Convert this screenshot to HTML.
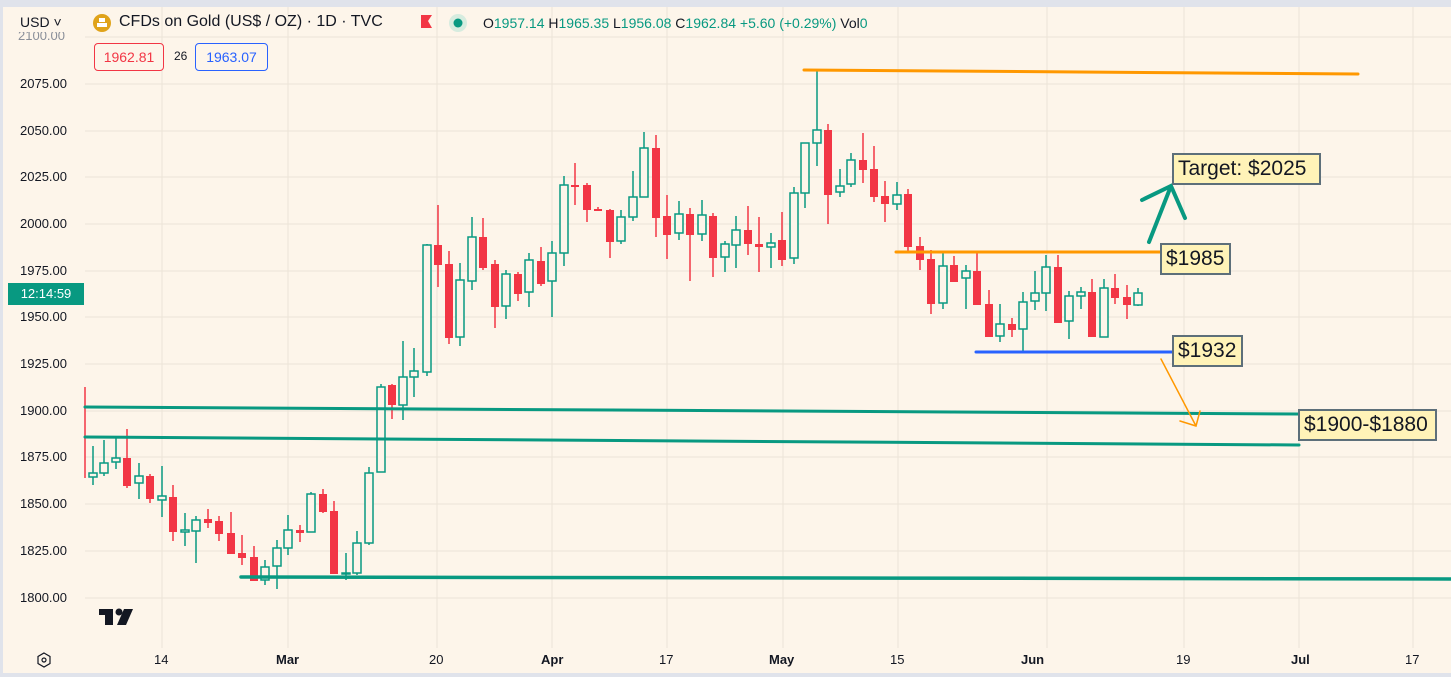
<!DOCTYPE html>
<html><head><meta charset="utf-8"><style>
body{margin:0;width:1451px;height:677px;overflow:hidden;background:#e0e3eb;font-family:"Liberation Sans",sans-serif;}
#c{position:absolute;left:3px;top:7px;width:1448px;height:666px;background:#fdf5ea;}
svg{position:absolute;left:0;top:0}
.t{position:absolute;white-space:nowrap;color:#131722}
.box{position:absolute;background:#fff3b8;border:2px solid #5d6f7a;font-size:21px;color:#131722;padding:0 4px;line-height:28px;box-sizing:border-box;height:32px}
</style></head><body>
<div id="c"></div>
<svg width="1451" height="677" viewBox="0 0 1451 677">
<g stroke="#ece4d8" stroke-width="1">
<line x1="85" y1="37" x2="1451" y2="37"/><line x1="85" y1="84" x2="1451" y2="84"/><line x1="85" y1="131" x2="1451" y2="131"/><line x1="85" y1="177" x2="1451" y2="177"/><line x1="85" y1="224" x2="1451" y2="224"/><line x1="85" y1="271" x2="1451" y2="271"/><line x1="85" y1="317" x2="1451" y2="317"/><line x1="85" y1="364" x2="1451" y2="364"/><line x1="85" y1="411" x2="1451" y2="411"/><line x1="85" y1="457" x2="1451" y2="457"/><line x1="85" y1="504" x2="1451" y2="504"/><line x1="85" y1="551" x2="1451" y2="551"/><line x1="85" y1="598" x2="1451" y2="598"/>
<line x1="162" y1="7" x2="162" y2="648"/><line x1="288" y1="7" x2="288" y2="648"/><line x1="437" y1="7" x2="437" y2="648"/><line x1="552" y1="7" x2="552" y2="648"/><line x1="667" y1="7" x2="667" y2="648"/><line x1="783" y1="7" x2="783" y2="648"/><line x1="898" y1="7" x2="898" y2="648"/><line x1="1047" y1="7" x2="1047" y2="648"/><line x1="1184" y1="7" x2="1184" y2="648"/><line x1="1299" y1="7" x2="1299" y2="648"/><line x1="1413" y1="7" x2="1413" y2="648"/>
</g>
<!-- red wicks -->
<g stroke="#f23645" stroke-width="1.5">
<line x1="85" y1="387" x2="85" y2="478"/>
<line x1="127" y1="429" x2="127" y2="488"/><line x1="150" y1="474" x2="150" y2="503"/><line x1="173" y1="485" x2="173" y2="541"/><line x1="208" y1="509" x2="208" y2="528"/><line x1="219" y1="516" x2="219" y2="541"/><line x1="231" y1="512" x2="231" y2="554"/><line x1="242" y1="535" x2="242" y2="565"/><line x1="254" y1="546" x2="254" y2="581"/><line x1="300" y1="525" x2="300" y2="542"/><line x1="323" y1="489" x2="323" y2="513"/><line x1="334" y1="501" x2="334" y2="574"/><line x1="392" y1="384" x2="392" y2="419"/><line x1="438" y1="205" x2="438" y2="287"/><line x1="449" y1="251" x2="449" y2="344"/><line x1="483" y1="218" x2="483" y2="270"/><line x1="495" y1="260" x2="495" y2="328"/><line x1="518" y1="272" x2="518" y2="301"/><line x1="541" y1="247" x2="541" y2="286"/><line x1="575" y1="163" x2="575" y2="205"/><line x1="587" y1="183" x2="587" y2="222"/><line x1="598" y1="207" x2="598" y2="211"/><line x1="610" y1="209" x2="610" y2="258"/><line x1="656" y1="135" x2="656" y2="237"/><line x1="667" y1="195" x2="667" y2="259"/><line x1="690" y1="208" x2="690" y2="281"/><line x1="713" y1="213" x2="713" y2="277"/><line x1="748" y1="206" x2="748" y2="255"/><line x1="759" y1="217" x2="759" y2="272"/><line x1="782" y1="212" x2="782" y2="266"/><line x1="828" y1="124" x2="828" y2="224"/><line x1="863" y1="133" x2="863" y2="183"/><line x1="874" y1="146" x2="874" y2="202"/><line x1="885" y1="181" x2="885" y2="222"/><line x1="908" y1="189" x2="908" y2="251"/><line x1="920" y1="237" x2="920" y2="270"/><line x1="931" y1="250" x2="931" y2="314"/><line x1="954" y1="256" x2="954" y2="282"/><line x1="977" y1="251" x2="977" y2="305"/><line x1="989" y1="290" x2="989" y2="337"/><line x1="1012" y1="318" x2="1012" y2="337"/><line x1="1058" y1="255" x2="1058" y2="323"/><line x1="1092" y1="279" x2="1092" y2="337"/><line x1="1115" y1="274" x2="1115" y2="304"/><line x1="1127" y1="285" x2="1127" y2="319"/>
</g>
<g fill="#f23645">
<rect x="123" y="458" width="8" height="28"/><rect x="146" y="476" width="8" height="23"/><rect x="169" y="497" width="8" height="35"/><rect x="204" y="519" width="8" height="4"/><rect x="215" y="521" width="8" height="13"/><rect x="227" y="533" width="8" height="21"/><rect x="238" y="553" width="8" height="5"/><rect x="250" y="557" width="8" height="24"/><rect x="296" y="530" width="8" height="3"/><rect x="319" y="494" width="8" height="18"/><rect x="330" y="511" width="8" height="63"/><rect x="388" y="385" width="8" height="20"/><rect x="434" y="245" width="8" height="20"/><rect x="445" y="264" width="8" height="74"/><rect x="479" y="237" width="8" height="31"/><rect x="491" y="264" width="8" height="43"/><rect x="514" y="274" width="8" height="20"/><rect x="537" y="261" width="8" height="23"/><rect x="571" y="185" width="8" height="2"/><rect x="583" y="185" width="8" height="25"/><rect x="594" y="209" width="8" height="2"/><rect x="606" y="210" width="8" height="32"/><rect x="652" y="148" width="8" height="70"/><rect x="663" y="216" width="8" height="19"/><rect x="686" y="214" width="8" height="21"/><rect x="709" y="216" width="8" height="42"/><rect x="744" y="230" width="8" height="14"/><rect x="755" y="244" width="8" height="3"/><rect x="778" y="240" width="8" height="20"/><rect x="824" y="130" width="8" height="65"/><rect x="859" y="160" width="8" height="10"/><rect x="870" y="169" width="8" height="28"/><rect x="881" y="196" width="8" height="8"/><rect x="904" y="194" width="8" height="53"/><rect x="916" y="246" width="8" height="14"/><rect x="927" y="259" width="8" height="45"/><rect x="950" y="265" width="8" height="17"/><rect x="973" y="271" width="8" height="34"/><rect x="985" y="304" width="8" height="33"/><rect x="1008" y="324" width="8" height="6"/><rect x="1054" y="267" width="8" height="56"/><rect x="1088" y="292" width="8" height="45"/><rect x="1111" y="288" width="8" height="10"/><rect x="1123" y="297" width="8" height="8"/>
</g>
<!-- green -->
<g stroke="#089981" stroke-width="1.5">
<line x1="93" y1="446" x2="93" y2="485"/><line x1="104" y1="440" x2="104" y2="476"/><line x1="116" y1="436" x2="116" y2="469"/><line x1="139" y1="463" x2="139" y2="499"/><line x1="162" y1="466" x2="162" y2="517"/><line x1="185" y1="513" x2="185" y2="546"/><line x1="196" y1="516" x2="196" y2="563"/><line x1="265" y1="560" x2="265" y2="585"/><line x1="277" y1="540" x2="277" y2="589"/><line x1="288" y1="515" x2="288" y2="555"/><line x1="311" y1="492" x2="311" y2="532"/><line x1="346" y1="553" x2="346" y2="580"/><line x1="357" y1="531" x2="357" y2="575"/><line x1="369" y1="467" x2="369" y2="545"/><line x1="381" y1="384" x2="381" y2="472"/><line x1="403" y1="341" x2="403" y2="420"/><line x1="414" y1="348" x2="414" y2="397"/><line x1="427" y1="244" x2="427" y2="376"/><line x1="460" y1="263" x2="460" y2="346"/><line x1="472" y1="217" x2="472" y2="290"/><line x1="506" y1="270" x2="506" y2="319"/><line x1="529" y1="253" x2="529" y2="307"/><line x1="552" y1="241" x2="552" y2="317"/><line x1="564" y1="176" x2="564" y2="266"/><line x1="621" y1="210" x2="621" y2="244"/><line x1="633" y1="171" x2="633" y2="221"/><line x1="644" y1="132" x2="644" y2="197"/><line x1="679" y1="201" x2="679" y2="240"/><line x1="702" y1="200" x2="702" y2="241"/><line x1="725" y1="241" x2="725" y2="272"/><line x1="736" y1="216" x2="736" y2="268"/><line x1="771" y1="233" x2="771" y2="268"/><line x1="794" y1="187" x2="794" y2="264"/><line x1="805" y1="143" x2="805" y2="208"/><line x1="817" y1="70" x2="817" y2="166"/><line x1="840" y1="169" x2="840" y2="197"/><line x1="851" y1="153" x2="851" y2="187"/><line x1="897" y1="182" x2="897" y2="210"/><line x1="943" y1="253" x2="943" y2="309"/><line x1="966" y1="265" x2="966" y2="309"/><line x1="1000" y1="304" x2="1000" y2="342"/><line x1="1023" y1="292" x2="1023" y2="352"/><line x1="1035" y1="271" x2="1035" y2="310"/><line x1="1046" y1="255" x2="1046" y2="311"/><line x1="1069" y1="291" x2="1069" y2="339"/><line x1="1081" y1="287" x2="1081" y2="309"/><line x1="1104" y1="279" x2="1104" y2="337"/><line x1="1138" y1="288" x2="1138" y2="306"/>
</g>
<g stroke="#089981" stroke-width="1.5" fill="#fdf5ea">
<rect x="89" y="473" width="8" height="4"/><rect x="100" y="463" width="8" height="10"/><rect x="112" y="458" width="8" height="4"/><rect x="135" y="476" width="8" height="7"/><rect x="158" y="496" width="8" height="4"/><rect x="181" y="530" width="8" height="2"/><rect x="192" y="520" width="8" height="11"/><rect x="261" y="567" width="8" height="13"/><rect x="273" y="548" width="8" height="18"/><rect x="284" y="530" width="8" height="18"/><rect x="307" y="494" width="8" height="38"/><rect x="342" y="573" width="8" height="1"/><rect x="353" y="543" width="8" height="30"/><rect x="365" y="473" width="8" height="70"/><rect x="377" y="387" width="8" height="85"/><rect x="399" y="377" width="8" height="28"/><rect x="410" y="371" width="8" height="6"/><rect x="423" y="245" width="8" height="127"/><rect x="456" y="280" width="8" height="57"/><rect x="468" y="237" width="8" height="44"/><rect x="502" y="274" width="8" height="32"/><rect x="525" y="260" width="8" height="32"/><rect x="548" y="253" width="8" height="28"/><rect x="560" y="185" width="8" height="68"/><rect x="617" y="217" width="8" height="24"/><rect x="629" y="197" width="8" height="20"/><rect x="640" y="148" width="8" height="49"/><rect x="675" y="214" width="8" height="19"/><rect x="698" y="215" width="8" height="19"/><rect x="721" y="244" width="8" height="13"/><rect x="732" y="230" width="8" height="15"/><rect x="767" y="243" width="8" height="4"/><rect x="790" y="193" width="8" height="65"/><rect x="801" y="143" width="8" height="50"/><rect x="813" y="130" width="8" height="13"/><rect x="836" y="186" width="8" height="6"/><rect x="847" y="160" width="8" height="24"/><rect x="893" y="195" width="8" height="9"/><rect x="939" y="266" width="8" height="37"/><rect x="962" y="271" width="8" height="7"/><rect x="996" y="324" width="8" height="12"/><rect x="1019" y="302" width="8" height="27"/><rect x="1031" y="293" width="8" height="8"/><rect x="1042" y="267" width="8" height="26"/><rect x="1065" y="296" width="8" height="25"/><rect x="1077" y="292" width="8" height="4"/><rect x="1100" y="288" width="8" height="49"/><rect x="1134" y="293" width="8" height="12"/>
</g>
<!-- drawings -->
<g stroke-linecap="round" fill="none">
<line x1="85" y1="407" x2="1299" y2="414" stroke="#089981" stroke-width="3"/>
<line x1="85" y1="437" x2="1299" y2="445" stroke="#089981" stroke-width="3"/>
<line x1="241" y1="577" x2="1451" y2="579" stroke="#089981" stroke-width="3.5"/>
<line x1="804" y1="70" x2="1358" y2="74" stroke="#ff9800" stroke-width="3"/>
<line x1="896" y1="252" x2="1161" y2="252" stroke="#ff9800" stroke-width="3"/>
<line x1="976" y1="352" x2="1173" y2="352" stroke="#2962ff" stroke-width="3"/>
<path d="M1149 242 L1171 186 M1142 200 L1171 186 L1185 218" stroke="#089981" stroke-width="4"/>
<path d="M1161 359 L1196 426 M1180 421 L1196 426 L1200 411" stroke="#ff9800" stroke-width="1.5"/>
</g>
<!-- logo -->
<g fill="#131722"><rect x="99" y="609" width="14" height="6"/><rect x="105" y="609" width="8" height="16"/><circle cx="119" cy="612" r="3.5"/><path d="M124 609 L133 609 L126 625 L117 625 Z"/></g>
<!-- settings icon -->
<path d="M44 653 L50 656.5 L50 663.5 L44 667 L38 663.5 L38 656.5 Z" fill="none" stroke="#131722" stroke-width="1.2"/><circle cx="44" cy="660" r="2" fill="none" stroke="#131722" stroke-width="1.2"/>
<!-- header icons -->
<circle cx="102" cy="23" r="9" fill="#e0a31a"/><rect x="97" y="23" width="10" height="4" fill="#fff"/><rect x="99" y="18" width="6" height="4" fill="#fff"/>
<path d="M421 15 L432 15 L428 21 L432 28 L421 28 Z" fill="#f23645"/>
<circle cx="458" cy="23" r="9" fill="#d6ecdf"/><circle cx="458" cy="23" r="4.5" fill="#089981"/>
</svg>
<div class="t" style="left:20px;top:14px;font-size:14px">USD ˅</div>
<div class="t" style="left:119px;top:13px;font-size:16px">CFDs on Gold (US$ / OZ) · 1D · TVC</div>
<div class="t" style="left:483px;top:15px;font-size:14px">O<span style="color:#089981">1957.14</span> H<span style="color:#089981">1965.35</span> L<span style="color:#089981">1956.08</span> C<span style="color:#089981">1962.84 +5.60 (+0.29%)</span> Vol<span style="color:#089981">0</span></div>
<div class="t" style="left:94px;top:43px;width:68px;height:26px;border:1px solid #f23645;border-radius:4px;color:#f23645;font-size:14px;line-height:26px;text-align:center;background:#fdf5ea">1962.81</div>
<div class="t" style="left:174px;top:49px;font-size:12px">26</div>
<div class="t" style="left:195px;top:43px;width:71px;height:26px;border:1px solid #2962ff;border-radius:4px;color:#2962ff;font-size:14px;line-height:26px;text-align:center;background:#fdf5ea">1963.07</div>
<div class="t" style="left:18px;top:28px;font-size:13px;color:#8a8f99;clip-path:inset(4px 0 0 0)">2100.00</div>
<div class="t" style="left:20px;top:76px;font-size:13px">2075.00</div>
<div class="t" style="left:20px;top:123px;font-size:13px">2050.00</div>
<div class="t" style="left:20px;top:169px;font-size:13px">2025.00</div>
<div class="t" style="left:20px;top:216px;font-size:13px">2000.00</div>
<div class="t" style="left:20px;top:263px;font-size:13px">1975.00</div>
<div class="t" style="left:20px;top:309px;font-size:13px">1950.00</div>
<div class="t" style="left:20px;top:356px;font-size:13px">1925.00</div>
<div class="t" style="left:20px;top:403px;font-size:13px">1900.00</div>
<div class="t" style="left:20px;top:449px;font-size:13px">1875.00</div>
<div class="t" style="left:20px;top:496px;font-size:13px">1850.00</div>
<div class="t" style="left:20px;top:543px;font-size:13px">1825.00</div>
<div class="t" style="left:20px;top:590px;font-size:13px">1800.00</div>
<div class="t" style="left:8px;top:283px;width:76px;height:22px;background:#089981;color:#fff;font-size:13px;line-height:22px;text-align:center">12:14:59</div>
<div class="t" style="left:154px;top:652px;font-size:13px">14</div>
<div class="t" style="left:276px;top:652px;font-size:13px;font-weight:bold">Mar</div>
<div class="t" style="left:429px;top:652px;font-size:13px">20</div>
<div class="t" style="left:541px;top:652px;font-size:13px;font-weight:bold">Apr</div>
<div class="t" style="left:659px;top:652px;font-size:13px">17</div>
<div class="t" style="left:769px;top:652px;font-size:13px;font-weight:bold">May</div>
<div class="t" style="left:890px;top:652px;font-size:13px">15</div>
<div class="t" style="left:1021px;top:652px;font-size:13px;font-weight:bold">Jun</div>
<div class="t" style="left:1176px;top:652px;font-size:13px">19</div>
<div class="t" style="left:1291px;top:652px;font-size:13px;font-weight:bold">Jul</div>
<div class="t" style="left:1405px;top:652px;font-size:13px">17</div>
<div class="box" style="left:1172px;top:153px;width:149px">Target: $2025</div>
<div class="box" style="left:1160px;top:243px;width:71px">$1985</div>
<div class="box" style="left:1172px;top:335px;width:71px">$1932</div>
<div class="box" style="left:1298px;top:409px;width:139px">$1900-$1880</div>
</body></html>
